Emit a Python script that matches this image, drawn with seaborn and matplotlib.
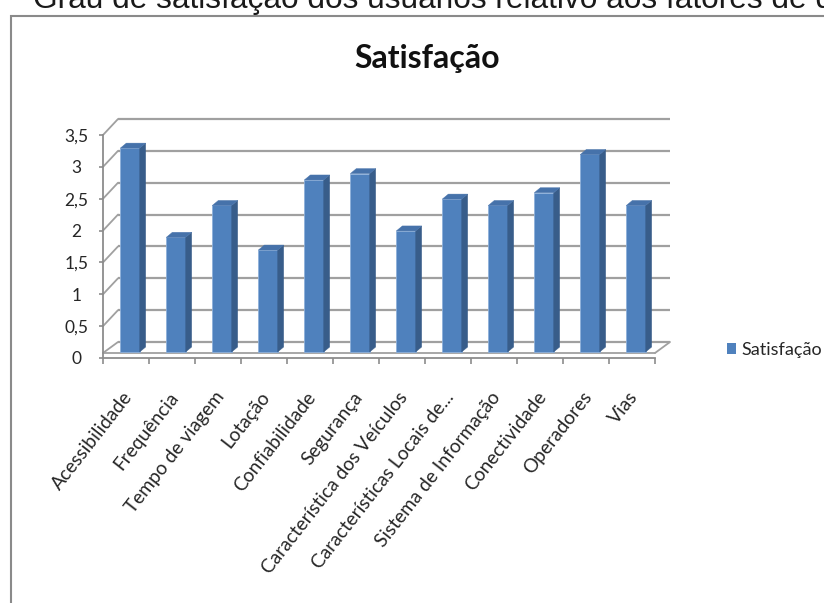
import matplotlib
matplotlib.use("Agg")
import matplotlib.pyplot as plt
import matplotlib.transforms as mtransforms
from matplotlib.patches import Polygon, Rectangle, Patch
from matplotlib.ticker import FixedLocator
import seaborn as sns
import pandas as pd

# ---- data -------------------------------------------------------------
categorias = [
    "Acessibilidade", "Frequência", "Tempo de viagem", "Lotação",
    "Confiabilidade", "Segurança", "Característica dos Veículos",
    "Características Locais de...", "Sistema de Informação",
    "Conectividade", "Operadores", "Vias",
]
satisfacao = [3.2, 1.8, 2.3, 1.6, 2.7, 2.8, 1.9, 2.4, 2.3, 2.5, 3.1, 2.3]
y_ticks = [0, 0.5, 1, 1.5, 2, 2.5, 3, 3.5]
y_labels = ["0", "0,5", "1", "1,5", "2", "2,5", "3", "3,5"]
serie = "Satisfação"
titulo = "Satisfação"
cabecalho = "Grau de satisfação dos usuários relativo aos fatores de qualidade"

# ---- style ------------------------------------------------------------
sns.set_theme(style="white")
plt.rcParams["font.family"] = ["Lato", "DejaVu Sans"]

FRENTE = "#4F81BD"
LADO = "#385D8A"
TOPO = "#4672AA"
GRADE = "#A0A0A0"
EIXO = "#8C8C8C"
TEXTO = "#262626"

W, H = 824, 603
fig = plt.figure(figsize=(W / 100, H / 100), dpi=100)
fig.patch.set_facecolor("white")

# front plane of the 3-D chart (pixel box)
x0, x1 = 103, 655
y_top, y_bot = 135, 358
ax = fig.add_axes([x0 / W, 1 - y_bot / H, (x1 - x0) / W, (y_bot - y_top) / H])
ax.set_facecolor("none")

df = pd.DataFrame({"Fator": categorias, "Valor": satisfacao})
sns.barplot(data=df, x="Fator", y="Valor", color=FRENTE, width=0.42,
            saturation=1, edgecolor="#8DB0DA", linewidth=0.6, ax=ax, zorder=3)

n = len(categorias)
ax.set_xlim(-0.5, n - 0.5)
ax.set_ylim(0, 3.5)

ppx = ax.bbox.width / n        # pixels per category
ppy = ax.bbox.height / 3.5     # pixels per unit

def deslocado(dx, dy):
    return mtransforms.offset_copy(ax.transData, fig=fig, x=dx, y=dy, units="dots")

plano_barras = deslocado(4, 6)
plano_fundo = deslocado(15, 16)
plano_piso = deslocado(0, 5)

# back wall gridlines
for v in y_ticks:
    ax.plot([-0.5, n - 0.5], [v, v], transform=plano_fundo, color=GRADE,
            lw=1.6, clip_on=False, zorder=0.5, solid_capstyle="butt")
# side wall diagonals
for v in y_ticks:
    ys = 5 / ppy if v == 0 else v
    ax.plot([-0.5, -0.5 + 15 / ppx], [ys, v + 16 / ppy], color=GRADE,
            lw=1.3, clip_on=False, zorder=0.5)
# floor front edge and right edge
ax.plot([-0.5, n - 0.5], [0, 0], transform=plano_piso, color=GRADE,
        lw=1.3, clip_on=False, zorder=0.6)
ax.plot([n - 0.5, n - 0.5 + 15 / ppx], [5 / ppy, 16 / ppy], color=GRADE,
        lw=1.3, clip_on=False, zorder=0.6)

# 3-D bars: front faces from seaborn, plus side and top faces
ddx, ddy = 6 / ppx, 5 / ppy
for p in list(ax.patches):
    p.set_transform(plano_barras)
    p.set_clip_on(False)
    xl = p.get_x()
    xr = xl + p.get_width()
    h = p.get_height()
    lado = Polygon([(xr, 0), (xr + ddx, ddy), (xr + ddx, h + ddy), (xr, h)],
                   closed=True, facecolor=LADO, edgecolor=LADO, lw=0.3,
                   transform=plano_barras, clip_on=False, zorder=3)
    topo = Polygon([(xl, h), (xr, h), (xr + ddx, h + ddy), (xl + ddx, h + ddy)],
                   closed=True, facecolor=TOPO, edgecolor=TOPO, lw=0.3,
                   transform=plano_barras, clip_on=False, zorder=3)
    ax.add_patch(lado)
    ax.add_patch(topo)

# axes lines and ticks
for s in ["top", "right"]:
    ax.spines[s].set_visible(False)
for s in ["left", "bottom"]:
    ax.spines[s].set_color(EIXO)
    ax.spines[s].set_linewidth(1.3)

ax.yaxis.set_major_locator(FixedLocator(y_ticks))
ax.set_yticklabels(y_labels)
ax.tick_params(axis="y", which="major", direction="out", length=3, width=1.2,
               color=EIXO, left=True, pad=16, labelsize=12.5, labelcolor=TEXTO)
for t in ax.get_yticklabels():
    t.set_horizontalalignment("center")

ax.set_xticks(range(n))
ax.set_xticklabels(categorias)
ax.xaxis.set_minor_locator(FixedLocator([i - 0.5 for i in range(n + 1)]))
ax.tick_params(axis="x", which="major", length=0, pad=22, labelsize=13.8,
               labelcolor=TEXTO)
ax.tick_params(axis="x", which="minor", direction="out", length=4.5, width=1.2,
               color=EIXO, bottom=True)
desloc_rotulo = mtransforms.Affine2D().translate(-4, 0)
for t in ax.get_xticklabels():
    t.set_rotation(52)
    t.set_horizontalalignment("right")
    t.set_verticalalignment("top")
    t.set_rotation_mode("anchor")
    t.set_transform(t.get_transform() + desloc_rotulo)
ax.set_xlabel("")
ax.set_ylabel("")

# legend
fig.legend(handles=[Patch(facecolor=FRENTE, edgecolor="none")], labels=[serie],
           loc="center left", bbox_to_anchor=(727 / W, 1 - 350 / H),
           frameon=False, handlelength=0.5, handleheight=0.5,
           handletextpad=0.3, fontsize=13, borderpad=0, borderaxespad=0,
           labelcolor=TEXTO)

# chart title
fig.text(427 / W, 1 - 68 / H, titulo, ha="center", va="baseline",
         fontsize=23, fontweight="bold", color="#111111")

# outer frame and caption above it
fig.patches.append(Rectangle((11 / W, -0.05), 1.2, (H - 16) / H + 0.05,
                             transform=fig.transFigure, fill=False,
                             edgecolor="#8A8A8A", lw=1.5))
fig.text(33 / W, 1 - 8 / H, cabecalho, ha="left", va="baseline",
         fontsize=22.8, family=["Liberation Sans", "DejaVu Sans"], color="#1A1A1A")

fig.savefig("out.png", dpi=100)
